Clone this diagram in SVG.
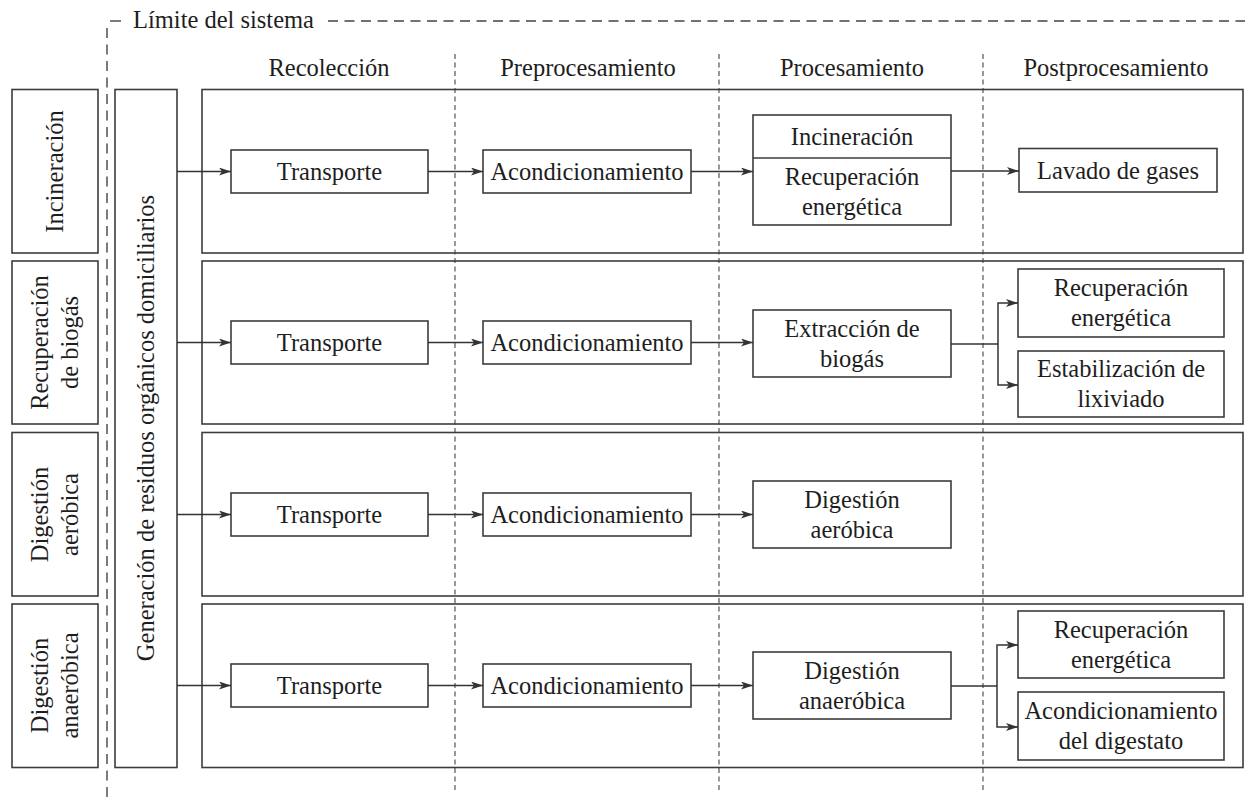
<svg xmlns="http://www.w3.org/2000/svg" width="1247" height="799" viewBox="0 0 1247 799">
<defs>
<style>
text{font-family:"Liberation Serif","Times New Roman",serif;font-size:24.5px;fill:#1e1e1e;text-anchor:middle}
.box{fill:none;stroke:#3c3c3c;stroke-width:1.6}
.conn{fill:none;stroke:#333;stroke-width:1.5}
.arr{marker-end:url(#ah)}
.col{stroke:#555;stroke-width:1.2;stroke-dasharray:5 3.5;fill:none}
.lim{stroke:#444;stroke-width:1.4;stroke-dasharray:10 6.5;fill:none}
</style>
<marker id="ah" markerUnits="userSpaceOnUse" markerWidth="14" markerHeight="10" refX="12" refY="4" orient="auto">
<path d="M0,0 L12,4 L0,8 L3,4 z" fill="#333"/>
</marker>
</defs>
<rect width="1247" height="799" fill="#fff"/>

<g id="system-boundary">
<line class="lim" x1="107" y1="28" x2="107" y2="799"/>
<line x1="110" y1="21" x2="121" y2="21" stroke="#444" stroke-width="1.4"/>
<line class="lim" x1="328" y1="21" x2="1245" y2="21"/>
<text x="133" y="27.5" style="text-anchor:start">Límite del sistema</text>
</g>

<g id="columns">
<line class="col" x1="455" y1="54" x2="455" y2="790"/>
<line class="col" x1="719" y1="54" x2="719" y2="790"/>
<line class="col" x1="983" y1="54" x2="983" y2="790"/>
<text x="329" y="76">Recolección</text>
<text x="588" y="76">Preprocesamiento</text>
<text x="852" y="76">Procesamiento</text>
<text x="1116" y="76">Postprocesamiento</text>
</g>

<g id="label-incineracion">
<rect class="box" x="12" y="89.5" width="86" height="163.5"/>
<text transform="translate(55,171.5) rotate(-90)" y="8.3">Incineración</text>
</g>
<g id="label-biogas">
<rect class="box" x="12" y="261" width="86" height="163"/>
<text transform="translate(55,342.5) rotate(-90)"><tspan x="0" y="-6.7">Recuperación</tspan><tspan x="0" y="23.3">de biogás</tspan></text>
</g>
<g id="label-aerobica">
<rect class="box" x="12" y="432.5" width="86" height="163.5"/>
<text transform="translate(55,514.5) rotate(-90)"><tspan x="0" y="-6.7">Digestión</tspan><tspan x="0" y="23.3">aeróbica</tspan></text>
</g>
<g id="label-anaerobica">
<rect class="box" x="12" y="604" width="86" height="163.5"/>
<text transform="translate(55,685.5) rotate(-90)"><tspan x="0" y="-6.7">Digestión</tspan><tspan x="0" y="23.3">anaeróbica</tspan></text>
</g>

<g id="generacion">
<rect class="box" x="115" y="89.5" width="62" height="678"/>
<text transform="translate(146,428) rotate(-90)" y="8.3">Generación de residuos orgánicos domiciliarios</text>
</g>

<g id="row-frames">
<rect class="box" x="202" y="89.5" width="1041" height="163.5"/>
<rect class="box" x="202" y="261" width="1041" height="163"/>
<rect class="box" x="202" y="432.5" width="1041" height="163.5"/>
<rect class="box" x="202" y="604" width="1041" height="163.5"/>
</g>

<g id="transporte-1"><rect class="box" x="231" y="150" width="197" height="43"/><text x="329.5" y="180">Transporte</text></g>
<g id="transporte-2"><rect class="box" x="231" y="321" width="197" height="43"/><text x="329.5" y="351">Transporte</text></g>
<g id="transporte-3"><rect class="box" x="231" y="493" width="197" height="43"/><text x="329.5" y="523">Transporte</text></g>
<g id="transporte-4"><rect class="box" x="231" y="664" width="197" height="43"/><text x="329.5" y="694">Transporte</text></g>

<g id="acond-1"><rect class="box" x="483" y="150" width="208" height="43"/><text x="587" y="180">Acondicionamiento</text></g>
<g id="acond-2"><rect class="box" x="483" y="321" width="208" height="43"/><text x="587" y="351">Acondicionamiento</text></g>
<g id="acond-3"><rect class="box" x="483" y="493" width="208" height="43"/><text x="587" y="523">Acondicionamiento</text></g>
<g id="acond-4"><rect class="box" x="483" y="664" width="208" height="43"/><text x="587" y="694">Acondicionamiento</text></g>

<g id="incineracion">
<rect class="box" x="753" y="115" width="198" height="110"/>
<line class="box" x1="753" y1="158" x2="951" y2="158"/>
<text x="852" y="145">Incineración</text>
<text x="852" y="184.8">Recuperación</text>
<text x="852" y="214.8">energética</text>
</g>
<g id="extraccion-biogas">
<rect class="box" x="753" y="310" width="198" height="67"/>
<text x="852" y="336.8">Extracción de</text>
<text x="852" y="366.8">biogás</text>
</g>
<g id="digestion-aerobica">
<rect class="box" x="753" y="481" width="198" height="67"/>
<text x="852" y="507.8">Digestión</text>
<text x="852" y="537.8">aeróbica</text>
</g>
<g id="digestion-anaerobica">
<rect class="box" x="753" y="652" width="198" height="67"/>
<text x="852" y="678.8">Digestión</text>
<text x="852" y="708.8">anaeróbica</text>
</g>

<g id="lavado-gases">
<rect class="box" x="1019" y="148.5" width="198" height="43.5"/>
<text x="1118" y="178.5">Lavado de gases</text>
</g>
<g id="recuperacion-2">
<rect class="box" x="1018" y="269" width="206" height="68"/>
<text x="1121" y="296.3">Recuperación</text>
<text x="1121" y="326.3">energética</text>
</g>
<g id="estabilizacion">
<rect class="box" x="1018" y="351" width="206" height="66"/>
<text x="1121" y="377.3">Estabilización de</text>
<text x="1121" y="407.3">lixiviado</text>
</g>
<g id="recuperacion-4">
<rect class="box" x="1018" y="611" width="206" height="67"/>
<text x="1121" y="637.8">Recuperación</text>
<text x="1121" y="667.8">energética</text>
</g>
<g id="acond-digestato">
<rect class="box" x="1018" y="692" width="206" height="68"/>
<text x="1121" y="719.3">Acondicionamiento</text>
<text x="1121" y="749.3">del digestato</text>
</g>

<g id="connectors">
<line class="conn arr" x1="177" y1="171.5" x2="231" y2="171.5"/>
<line class="conn arr" x1="428" y1="171.5" x2="483" y2="171.5"/>
<line class="conn arr" x1="691" y1="171.5" x2="753" y2="171.5"/>
<line class="conn arr" x1="951" y1="171" x2="1019" y2="171"/>

<line class="conn arr" x1="177" y1="342.5" x2="231" y2="342.5"/>
<line class="conn arr" x1="428" y1="342.5" x2="483" y2="342.5"/>
<line class="conn arr" x1="691" y1="342.5" x2="753" y2="342.5"/>
<polyline class="conn" points="951,344 998,344"/>
<polyline class="conn arr" points="998,344 998,303 1018,303"/>
<polyline class="conn arr" points="998,344 998,385 1018,385"/>

<line class="conn arr" x1="177" y1="514.5" x2="231" y2="514.5"/>
<line class="conn arr" x1="428" y1="514.5" x2="483" y2="514.5"/>
<line class="conn arr" x1="691" y1="514.5" x2="753" y2="514.5"/>

<line class="conn arr" x1="177" y1="685.5" x2="231" y2="685.5"/>
<line class="conn arr" x1="428" y1="685.5" x2="483" y2="685.5"/>
<line class="conn arr" x1="691" y1="685.5" x2="753" y2="685.5"/>
<polyline class="conn" points="951,686 997,686"/>
<polyline class="conn arr" points="997,686 997,645 1018,645"/>
<polyline class="conn arr" points="997,686 997,727 1018,727"/>
</g>
</svg>
